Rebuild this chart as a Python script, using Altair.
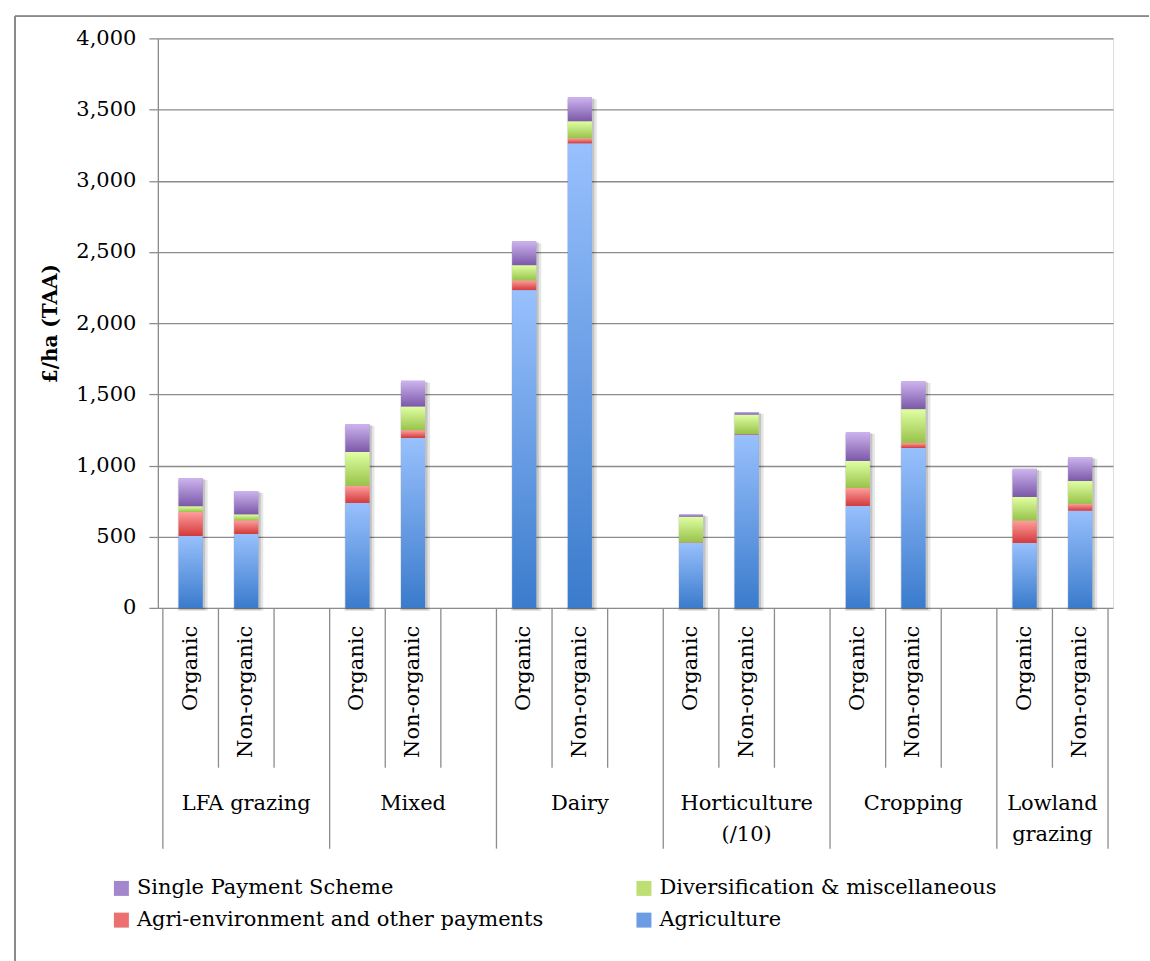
import altair as alt
import pandas as pd

# ---------------- data ----------------
groups = ["LFA grazing", "Mixed", "Dairy", "Horticulture\n(/10)", "Cropping", "Lowland\ngrazing"]
farm_types = ["Organic", "Non-organic"]
series = ["Agriculture", "Agri-environment and other payments",
          "Diversification & miscellaneous", "Single Payment Scheme"]
# legend fills column by column: col 1 = SPS, Agri-env; col 2 = Diversification, Agriculture
legend_order = ["Single Payment Scheme", "Agri-environment and other payments",
                "Diversification & miscellaneous", "Agriculture"]

# order: LFA O, LFA N, Mixed O, Mixed N, Dairy O, Dairy N, Hort O, Hort N, Crop O, Crop N, Low O, Low N
agriculture = [505, 519, 737, 1193, 2232, 3263, 458, 1218, 716, 1123, 456, 683]
agri_env = [169, 96, 119, 54, 68, 35, 3, 4, 126, 35, 157, 47]
diversification = [40, 42, 239, 167, 107, 120, 180, 136, 190, 238, 166, 161]
single_payment = [198, 164, 196, 182, 168, 168, 16, 18, 203, 197, 198, 169]
y_ticks = [0, 500, 1000, 1500, 2000, 2500, 3000, 3500, 4000]

# ---------------- styling ----------------
FONT = "DejaVu Serif"
FS = 21
GRID = "#8C8C8C"
gradients = {
    "Agriculture": ("#98C0FD", "#3A7BCC"),
    "Agri-environment and other payments": ("#FF9D9D", "#D23A3A"),
    "Diversification & miscellaneous": ("#E0FFA3", "#98C24A"),
    "Single Payment Scheme": ("#CDB5EF", "#7B58A8"),
}
legend_colors = ["#A486CC", "#EC7070", "#BDDF74", "#6C9DE4"]

# ---------------- tables ----------------
values_by_series = [agriculture, agri_env, diversification, single_payment]
seg_rows, slot_rows, group_rows, inner_div, group_div = [], [], [], [], []
slot = 0
for gi, g in enumerate(groups):
    start = slot
    group_div.append(start)
    for fi, ft in enumerate(farm_types):
        idx = gi * 2 + fi
        base = 0
        for s, vals in zip(series, values_by_series):
            v = vals[idx]
            seg_rows.append(dict(x=slot + 0.5, series=s, y0=base, y1=base + v))
            base += v
        slot_rows.append(dict(x=slot + 0.5, label=ft, total=base))
        slot += 1
        if fi < len(farm_types) - 1:
            inner_div.append(slot)
    if gi < len(groups) - 1:
        inner_div.append(slot)
        slot += 1
    group_rows.append(dict(x=(start + slot) / 2, label=g))
group_div.append(slot)
n_slots = slot

seg = pd.DataFrame(seg_rows)
slots = pd.DataFrame(slot_rows)
grp = pd.DataFrame(group_rows)
inner = pd.DataFrame(dict(x=inner_div))
gdiv = pd.DataFrame(dict(x=group_div))

W, H = 956, 570
xscale = alt.Scale(domain=[0, n_slots], nice=False, zero=False)
yscale = alt.Scale(domain=[0, 4000], nice=False)
X = alt.X("x:Q", scale=xscale, axis=None)

yaxis = alt.Axis(values=y_ticks, format=",.0f", title="£/ha (TAA)",
                 titleFont=FONT, titleFontSize=20, titleFontWeight="bold",
                 titleColor="black", titlePadding=15,
                 labelFont=FONT, labelFontSize=FS, labelColor="black",
                 labelPadding=13, tickSize=9, tickColor=GRID, tickWidth=1.3,
                 domainColor=GRID, domainWidth=1.3,
                 grid=True, gridColor=GRID, gridWidth=1.3)

BAR = 24

shadow = alt.Chart(slots).mark_bar(size=BAR + 6, color="#000000", opacity=0.10,
                                   xOffset=2, yOffset=2, y2Offset=3).encode(
    x=X, y=alt.Y("total:Q", scale=yscale, axis=yaxis), y2=alt.datum(0))
shadow2 = alt.Chart(slots).mark_bar(size=BAR + 2, color="#000000", opacity=0.14,
                                    xOffset=1.5, yOffset=1, y2Offset=2).encode(
    x=X, y=alt.Y("total:Q", scale=yscale), y2=alt.datum(0))

legend_layer = alt.Chart(seg).mark_bar(size=BAR).encode(
    x=X,
    y=alt.Y("y1:Q", scale=yscale),
    y2="y0:Q",
    color=alt.Color("series:N",
                    scale=alt.Scale(domain=legend_order, range=legend_colors),
                    legend=alt.Legend(title=None, orient="none", legendX=-47, legendY=840,
                                      columns=2, columnPadding=90, rowPadding=10,
                                      symbolType="square", symbolSize=225,
                                      symbolStrokeWidth=0, labelOffset=5,
                                      labelFont=FONT, labelFontSize=FS,
                                      labelColor="black", labelLimit=700, padding=0)),
)

grad_layers = []
for s in series:
    top, bottom = gradients[s]
    grad = alt.LinearGradient(
        gradient="linear", x1=0, x2=0, y1=0, y2=1,
        stops=[alt.GradientStop(color=top, offset=0),
               alt.GradientStop(color=bottom, offset=1)])
    grad_layers.append(
        alt.Chart(seg).transform_filter(alt.datum.series == s)
        .mark_bar(size=BAR, fill=grad)
        .encode(x=X, y=alt.Y("y1:Q", scale=yscale), y2="y0:Q"))

inner_rules = alt.Chart(inner).mark_rule(color=GRID, strokeWidth=1.3).encode(
    x=X, y=alt.value(H), y2=alt.value(730))
group_rules = alt.Chart(gdiv).mark_rule(color=GRID, strokeWidth=1.3).encode(
    x=X, y=alt.value(H), y2=alt.value(811))

slot_text = alt.Chart(slots).mark_text(angle=270, align="right", baseline="middle",
                                       font=FONT, fontSize=FS, color="black").encode(
    x=X, y=alt.value(588), text="label:N")
group_text = alt.Chart(grp).mark_text(align="center", baseline="alphabetic",
                                      lineBreak="\n", lineHeight=31,
                                      font=FONT, fontSize=FS, color="black").encode(
    x=X, y=alt.value(772), text="label:N")

# outer chart frame (decoration)
frame_left = alt.Chart(gdiv).mark_rule(color="#8A8A8A", strokeWidth=1.3).encode(
    x=alt.value(-143), y=alt.value(-22), y2=alt.value(923))
frame_top = alt.Chart(gdiv).mark_rule(color="#8A8A8A", strokeWidth=1.3).encode(
    x=alt.value(-143), x2=alt.value(992), y=alt.value(-22))

chart = alt.layer(
    shadow, shadow2, legend_layer, *grad_layers,
    inner_rules, group_rules, slot_text, group_text, frame_left, frame_top,
).properties(
    width=W, height=H,
    padding={"left": 14, "top": 15, "right": 0, "bottom": 0},
).configure_view(stroke="transparent").configure(background="white")

chart.save("out.html", embed_options={"renderer": "svg", "actions": False})
